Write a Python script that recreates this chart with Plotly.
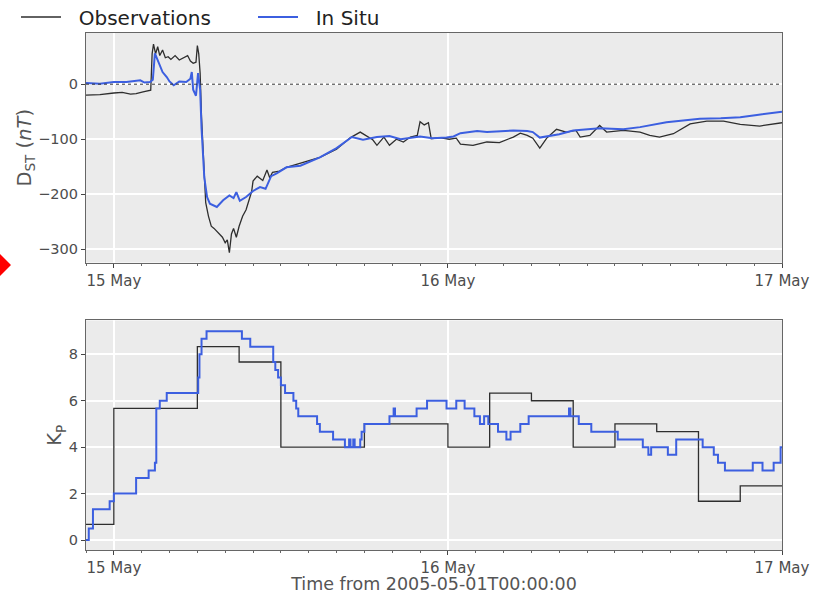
import pandas as pd
import plotly.graph_objects as go
from plotly.subplots import make_subplots

# hours from 2005-05-15 00:00
dst_obs_h = [-2.0, -1.0, 0.0, 0.6, 1.2, 1.6, 2.1, 2.5, 2.65, 2.75, 2.85, 3.0, 3.15, 3.3, 3.5,
             3.7, 3.9, 4.1, 4.4, 4.7, 5.0, 5.3, 5.5, 5.7, 5.9, 6.0, 6.1, 6.2, 6.3, 6.45,
             6.6, 6.8, 7.0, 7.2, 7.5, 7.8, 8.0, 8.15, 8.3, 8.45, 8.6, 8.8, 9.0, 9.25, 9.5,
             9.7, 9.9, 10.0, 10.3, 10.7, 11.0, 11.2, 11.4, 11.9, 12.4, 13.6, 14.8, 16.0,
             17.0, 17.7, 18.6, 18.9, 19.4, 19.8, 20.3, 20.8, 21.3, 21.8, 22.0, 22.3, 22.6,
             22.8, 23.4, 24.1, 24.6, 24.9, 25.8, 26.8, 27.7, 28.7, 29.2, 29.7, 30.1, 30.6,
             31.1, 31.8, 32.5, 33.2, 33.5, 34.2, 34.9, 35.4, 36.6, 37.8, 38.5, 39.2, 40.2,
             41.4, 42.6, 43.8, 45.0, 46.4, 47.4, 48.0]
dst_obs = [-20, -19, -16, -15, -18, -17, -14, -12, -11, 55, 73, 55, 68, 52, 62,
           48, 50, 45, 52, 44, 48, 52, 42, 38, 40, 70, 55, 20, -60, -150,
           -215, -240, -258, -262, -270, -278, -288, -283, -306, -272, -262, -278, -258, -240, -228,
           -210, -195, -176, -167, -175, -156, -170, -160, -158, -151, -142, -133, -118,
           -97, -87, -101, -111, -96, -111, -100, -105, -96, -93, -68, -74, -70,
           -99, -97, -100, -98, -109, -111, -105, -106, -96, -89, -93, -98, -116,
           -98, -82, -87, -84, -96, -93, -75, -87, -84, -87, -93, -96, -90,
           -72, -67, -67, -73, -76, -72, -70]

dst_insitu_h = [-2.0, -1.0, 0.0, 0.9, 1.9, 2.2, 2.6, 2.8, 2.95, 3.2, 3.5, 3.8, 4.0, 4.3, 4.7,
                5.2, 5.5, 5.6, 5.7, 5.9, 6.05, 6.2, 6.3, 6.5, 6.7, 6.9, 7.4, 7.85, 8.3, 8.6,
                8.8, 9.05, 9.5, 10.0, 10.5, 10.9, 11.3, 11.7, 12.4, 13.4, 14.8, 16.0, 17.1,
                17.9, 18.9, 19.8, 20.6, 22.0, 22.9, 23.9, 24.4, 24.9, 26.1, 26.8, 28.7, 29.7,
                30.1, 30.6, 31.1, 32.0, 33.0, 34.9, 36.6, 37.8, 39.7, 42.1, 43.6, 45.0, 46.2,
                48.0]
dst_insitu = [2, 1, 4, 4, 7, 3, 4, 8, 56, 40, 22, 13, 5, -2, 5,
              4, 10, 22, -10, -21, 20, -10, -80, -170, -205, -217, -223, -211, -202, -207,
              -196, -212, -205, -194, -187, -190, -167, -162, -151, -148, -133, -116, -96,
              -101, -96, -94, -100, -95, -98, -97, -95, -89, -85, -87, -84, -85,
              -87, -97, -95, -91, -84, -80, -82, -78, -69, -63, -62, -60, -56,
              -50]

kp_obs_h = [-3, 0, 3, 6, 9, 12, 15, 18, 21, 24, 27, 30, 33, 36, 39, 42, 45, 48]
kp_obs = [0.67, 5.67, 5.67, 8.33, 7.67, 4.0, 4.0, 5.0, 5.0, 4.0, 6.33, 6.0, 4.0, 5.0,
          4.67, 1.67, 2.33, 2.33]

kp_insitu_h = [-2.0, -1.8, -1.5, -0.3, 0.0, 1.6, 2.5, 2.95, 3.05, 3.3, 3.8, 6.06, 6.15,
               6.3, 6.66, 9.2, 9.8, 11.45, 11.6, 11.8, 12.0, 12.1, 12.3, 12.9, 13.1, 13.25,
               13.4, 14.6, 14.8, 15.75, 16.6, 16.9, 17.0, 17.2, 17.3, 17.7, 17.8, 18.0,
               19.8, 20.1, 20.2, 21.75, 22.5, 23.9, 24.6, 25.2, 25.9, 26.3, 26.6, 26.9,
               27.6, 28.2, 28.5, 29.2, 29.8, 32.7, 32.8, 33.4, 34.3, 34.5, 36.2, 38.0,
               38.4, 38.6, 39.8, 40.4, 42.3, 43.1, 43.4, 43.9, 45.9, 46.6, 47.4, 47.9, 48.0]
kp_insitu = [0.0, 0.5, 1.33, 1.67, 2.0, 2.67, 3.0, 3.33, 5.67, 6.0, 6.33, 7.0, 8.0,
             8.67, 9.0, 8.67, 8.33, 7.67, 7.33, 7.0, 6.67, 6.67, 6.33, 6.0, 5.67, 5.33,
             5.33, 5.0, 4.67, 4.33, 4.0, 4.33, 4.0, 4.33, 4.0, 4.33, 4.67, 5.0,
             5.33, 5.67, 5.33, 5.67, 6.0, 5.67, 6.0, 5.67, 5.33, 5.0, 5.33, 5.0,
             4.67, 4.33, 4.67, 5.0, 5.33, 5.67, 5.33, 5.0, 4.67, 4.67, 4.33, 4.0,
             3.67, 4.0, 3.67, 4.33, 4.0, 3.67, 3.33, 3.0, 3.33, 3.0, 3.33, 4.0, 4.0]

base = pd.Timestamp("2005-05-15")


def to_time(hours):
    return base + pd.to_timedelta(hours, unit="h")


BLACK = "#2e2e2e"
BLUE = "#3c5fe0"
FONT = "DejaVu Sans"
TICK_COLOR = "#4d4d4d"
SP = "\u00a0\u00a0"

fig = make_subplots(rows=2, cols=1, vertical_spacing=0.112, row_heights=[0.5, 0.5])

fig.add_trace(go.Scatter(x=to_time(dst_obs_h), y=dst_obs, mode="lines", name=SP + "Observations",
                         line=dict(color=BLACK, width=1.3)), row=1, col=1)
fig.add_trace(go.Scatter(x=to_time(dst_insitu_h), y=dst_insitu, mode="lines", name=SP + "In Situ",
                         line=dict(color=BLUE, width=2)), row=1, col=1)
fig.add_trace(go.Scatter(x=to_time(kp_obs_h), y=kp_obs, mode="lines", line_shape="hv",
                         showlegend=False, line=dict(color=BLACK, width=1.3)), row=2, col=1)
fig.add_trace(go.Scatter(x=to_time(kp_insitu_h), y=kp_insitu, mode="lines", line_shape="hv",
                         showlegend=False, line=dict(color=BLUE, width=2)), row=2, col=1)

xrange = [to_time(-2.0), to_time(48.0)]
xcommon = dict(
    range=xrange, tickformat="%-d %b", dtick=86400000, tick0="2005-05-15",
    showgrid=True, gridcolor="white", gridwidth=2, zeroline=False,
    showline=True, mirror=True, linecolor="#666666", linewidth=1.2,
    ticks="outside", ticklen=4, tickcolor="#444444",
    tickfont=dict(size=15, color=TICK_COLOR, family=FONT),
    minor=dict(dtick=2 * 3600 * 1000, ticks="outside", ticklen=2, tickcolor="#666666", showgrid=False),
)
fig.update_xaxes(**xcommon)
fig.update_xaxes(title=dict(text="Time from 2005-05-01T00:00:00", font=dict(size=17.5, color="#555555"),
                            standoff=5), row=2, col=1)

ycommon = dict(
    showgrid=True, gridcolor="white", gridwidth=2, zeroline=False,
    showline=True, mirror=True, linecolor="#666666", linewidth=1.2,
    ticks="outside", ticklen=4, tickcolor="#444444",
    tickfont=dict(size=14.5, color=TICK_COLOR, family=FONT),
)
fig.update_yaxes(**ycommon)
fig.update_yaxes(range=[-324, 93], dtick=100, row=1, col=1,
                 title=dict(text="D<sub>ST</sub> (<i>nT</i>)", font=dict(size=19.5, color="#555555"), standoff=0))
fig.update_yaxes(range=[-0.43, 9.46], dtick=2, row=2, col=1,
                 title=dict(text="K<sub>P</sub>", font=dict(size=19.5, color="#555555"), standoff=1))

# dotted zero line in the Dst panel
fig.add_hline(y=0, line=dict(color="#333333", width=1, dash="dot"), row=1, col=1)

# red marker cut at the left edge of the picture
px_l, px_r, px_t, px_b = 86, 782, 33, 550


def paper(px, py):
    return (px - px_l) / (px_r - px_l), (px_b - py) / (px_b - px_t)


pts = [paper(-3, 251), paper(11, 265), paper(-3, 279), paper(-17, 265)]
path = "M " + " L ".join(f"{a:.4f},{b:.4f}" for a, b in pts) + " Z"
fig.add_shape(type="path", path=path, xref="paper", yref="paper",
              fillcolor="#ff0000", line=dict(width=0), layer="above")

lx, ly = paper(16, 17)
fig.update_layout(
    width=813, height=594,
    margin=dict(l=86, r=31, t=33, b=44, autoexpand=False),
    plot_bgcolor="#ebebeb", paper_bgcolor="white",
    font=dict(family=FONT, color="#333333"),
    legend=dict(orientation="h", x=lx, y=ly, xanchor="left", yanchor="middle",
                font=dict(size=20, color="#222222"), itemwidth=40, entrywidth=182,
                bgcolor="rgba(0,0,0,0)", tracegroupgap=0),
    showlegend=True,
)

fig.write_html("out.html", config={"displayModeBar": False},
               post_script="document.body.style.margin='0';")
